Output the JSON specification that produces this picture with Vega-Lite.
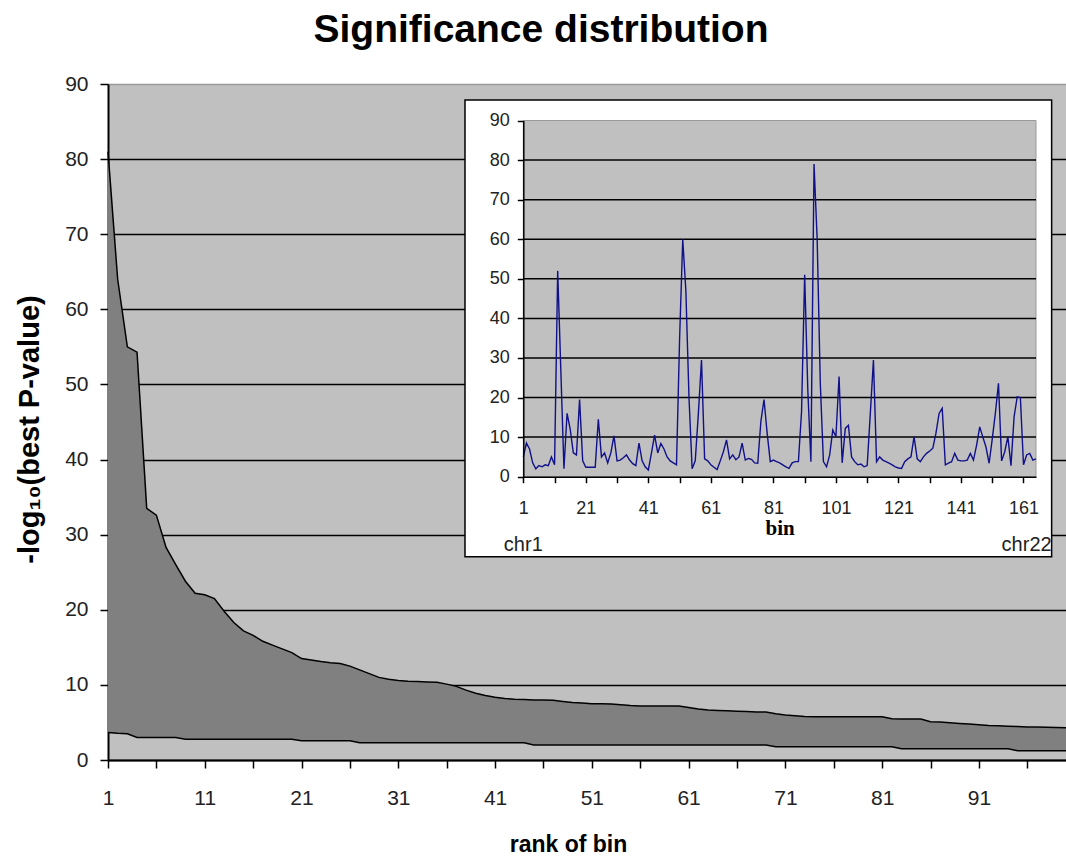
{
  "$schema": "https://vega.github.io/schema/vega-lite/v6.json",
  "width": 958,
  "height": 676,
  "autosize": {"type": "none"},
  "padding": {"left": 108, "top": 84, "right": 0, "bottom": 99},
  "background": "white",
  "config": {"view": {"fill": "#c0c0c0", "stroke": null}, "font": "Liberation Sans"},
  "title": {"text": "Significance distribution", "font": "Liberation Sans", "fontSize": 39, "fontWeight": "bold", "color": "#000", "anchor": "middle", "frame": "group", "offset": 23, "dx": -46},
  "datasets": {
    "ranked": [
      {"rank":1,"upper":81,"lower":3.65},{"rank":2,"upper":64,"lower":3.55},{"rank":3,"upper":55,"lower":3.5},{"rank":4,"upper":54.3,"lower":3.0},
      {"rank":5,"upper":33.5,"lower":3.0},{"rank":6,"upper":32.6,"lower":3.0},{"rank":7,"upper":28.3,"lower":3.0},{"rank":8,"upper":26,"lower":3.0},
      {"rank":9,"upper":23.8,"lower":2.75},{"rank":10,"upper":22.2,"lower":2.75},{"rank":11,"upper":22,"lower":2.75},{"rank":12,"upper":21.5,"lower":2.75},
      {"rank":13,"upper":19.8,"lower":2.75},{"rank":14,"upper":18.3,"lower":2.75},{"rank":15,"upper":17.2,"lower":2.75},{"rank":16,"upper":16.6,"lower":2.75},
      {"rank":17,"upper":15.8,"lower":2.75},{"rank":18,"upper":15.3,"lower":2.75},{"rank":19,"upper":14.8,"lower":2.75},{"rank":20,"upper":14.3,"lower":2.75},
      {"rank":21,"upper":13.5,"lower":2.57},{"rank":22,"upper":13.3,"lower":2.57},{"rank":23,"upper":13.1,"lower":2.57},{"rank":24,"upper":12.95,"lower":2.57},
      {"rank":25,"upper":12.85,"lower":2.57},{"rank":26,"upper":12.5,"lower":2.57},{"rank":27,"upper":12,"lower":2.3},{"rank":28,"upper":11.5,"lower":2.3},
      {"rank":29,"upper":11,"lower":2.3},{"rank":30,"upper":10.75,"lower":2.3},{"rank":31,"upper":10.6,"lower":2.3},{"rank":32,"upper":10.5,"lower":2.3},
      {"rank":33,"upper":10.45,"lower":2.3},{"rank":34,"upper":10.4,"lower":2.3},{"rank":35,"upper":10.35,"lower":2.3},{"rank":36,"upper":10.1,"lower":2.3},
      {"rank":37,"upper":9.8,"lower":2.3},{"rank":38,"upper":9.3,"lower":2.3},{"rank":39,"upper":8.9,"lower":2.3},{"rank":40,"upper":8.6,"lower":2.3},
      {"rank":41,"upper":8.35,"lower":2.3},{"rank":42,"upper":8.2,"lower":2.3},{"rank":43,"upper":8.1,"lower":2.3},{"rank":44,"upper":8.05,"lower":2.3},
      {"rank":45,"upper":8,"lower":2.0},{"rank":46,"upper":8,"lower":2.0},{"rank":47,"upper":7.95,"lower":2.0},{"rank":48,"upper":7.8,"lower":2.0},
      {"rank":49,"upper":7.65,"lower":2.0},{"rank":50,"upper":7.6,"lower":2.0},{"rank":51,"upper":7.5,"lower":2.0},{"rank":52,"upper":7.5,"lower":2.0},
      {"rank":53,"upper":7.45,"lower":2.0},{"rank":54,"upper":7.35,"lower":2.0},{"rank":55,"upper":7.25,"lower":2.0},{"rank":56,"upper":7.2,"lower":2.0},
      {"rank":57,"upper":7.2,"lower":2.0},{"rank":58,"upper":7.2,"lower":2.0},{"rank":59,"upper":7.2,"lower":2.0},{"rank":60,"upper":7.2,"lower":2.0},
      {"rank":61,"upper":7.0,"lower":2.0},{"rank":62,"upper":6.8,"lower":2.0},{"rank":63,"upper":6.65,"lower":2.0},{"rank":64,"upper":6.6,"lower":2.0},
      {"rank":65,"upper":6.55,"lower":2.0},{"rank":66,"upper":6.5,"lower":2.0},{"rank":67,"upper":6.45,"lower":2.0},{"rank":68,"upper":6.4,"lower":2.0},
      {"rank":69,"upper":6.4,"lower":2.0},{"rank":70,"upper":6.15,"lower":1.77},{"rank":71,"upper":6.0,"lower":1.77},{"rank":72,"upper":5.9,"lower":1.77},
      {"rank":73,"upper":5.8,"lower":1.77},{"rank":74,"upper":5.76,"lower":1.77},{"rank":75,"upper":5.76,"lower":1.77},{"rank":76,"upper":5.76,"lower":1.77},
      {"rank":77,"upper":5.76,"lower":1.77},{"rank":78,"upper":5.76,"lower":1.77},{"rank":79,"upper":5.76,"lower":1.77},{"rank":80,"upper":5.76,"lower":1.77},
      {"rank":81,"upper":5.76,"lower":1.77},{"rank":82,"upper":5.5,"lower":1.77},{"rank":83,"upper":5.45,"lower":1.5},{"rank":84,"upper":5.45,"lower":1.5},
      {"rank":85,"upper":5.45,"lower":1.5},{"rank":86,"upper":5.1,"lower":1.5},{"rank":87,"upper":5.05,"lower":1.5},{"rank":88,"upper":4.95,"lower":1.5},
      {"rank":89,"upper":4.87,"lower":1.5},{"rank":90,"upper":4.8,"lower":1.5},{"rank":91,"upper":4.7,"lower":1.5},{"rank":92,"upper":4.6,"lower":1.5},
      {"rank":93,"upper":4.55,"lower":1.5},{"rank":94,"upper":4.5,"lower":1.5},{"rank":95,"upper":4.45,"lower":1.24},{"rank":96,"upper":4.4,"lower":1.24},
      {"rank":97,"upper":4.38,"lower":1.24},{"rank":98,"upper":4.35,"lower":1.24},{"rank":99,"upper":4.33,"lower":1.24},{"rank":100,"upper":4.3,"lower":1.24}
    ],
    "bins": [
      {"bin":1,"v":5},{"bin":2,"v":8.5},{"bin":3,"v":7},{"bin":4,"v":3.5},{"bin":5,"v":2},{"bin":6,"v":2.8},{"bin":7,"v":2.5},{"bin":8,"v":3},{"bin":9,"v":2.8},{"bin":10,"v":5},
      {"bin":11,"v":3},{"bin":12,"v":52},{"bin":13,"v":27},{"bin":14,"v":2},{"bin":15,"v":16},{"bin":16,"v":12},{"bin":17,"v":6},{"bin":18,"v":5.5},{"bin":19,"v":19.5},{"bin":20,"v":4},
      {"bin":21,"v":2.4},{"bin":22,"v":2.4},{"bin":23,"v":2.4},{"bin":24,"v":2.4},{"bin":25,"v":14.5},{"bin":26,"v":5},{"bin":27,"v":6},{"bin":28,"v":3.5},{"bin":29,"v":6},{"bin":30,"v":10.3},
      {"bin":31,"v":4},{"bin":32,"v":4.2},{"bin":33,"v":4.8},{"bin":34,"v":5.5},{"bin":35,"v":4.2},{"bin":36,"v":3.3},{"bin":37,"v":2.8},{"bin":38,"v":8.5},{"bin":39,"v":4},{"bin":40,"v":2.5},
      {"bin":41,"v":1.7},{"bin":42,"v":6},{"bin":43,"v":10.5},{"bin":44,"v":6},{"bin":45,"v":8.4},{"bin":46,"v":7},{"bin":47,"v":5},{"bin":48,"v":4},{"bin":49,"v":3.5},{"bin":50,"v":3},
      {"bin":51,"v":35},{"bin":52,"v":60},{"bin":53,"v":47},{"bin":54,"v":20},{"bin":55,"v":2},{"bin":56,"v":4},{"bin":57,"v":16},{"bin":58,"v":29.5},{"bin":59,"v":4.5},{"bin":60,"v":4},
      {"bin":61,"v":3},{"bin":62,"v":2.4},{"bin":63,"v":1.8},{"bin":64,"v":4},{"bin":65,"v":6.3},{"bin":66,"v":9.3},{"bin":67,"v":4.5},{"bin":68,"v":5.5},{"bin":69,"v":4.3},{"bin":70,"v":5},
      {"bin":71,"v":8.5},{"bin":72,"v":4.2},{"bin":73,"v":4.6},{"bin":74,"v":4.4},{"bin":75,"v":3.5},{"bin":76,"v":3.4},{"bin":77,"v":14},{"bin":78,"v":19.5},{"bin":79,"v":11},{"bin":80,"v":3.8},
      {"bin":81,"v":4.2},{"bin":82,"v":3.8},{"bin":83,"v":3.5},{"bin":84,"v":3},{"bin":85,"v":2.5},{"bin":86,"v":2.1},{"bin":87,"v":3.5},{"bin":88,"v":3.8},{"bin":89,"v":3.8},{"bin":90,"v":16.4},
      {"bin":91,"v":51},{"bin":92,"v":22},{"bin":93,"v":3.8},{"bin":94,"v":79},{"bin":95,"v":60},{"bin":96,"v":23.6},{"bin":97,"v":3.8},{"bin":98,"v":2.5},{"bin":99,"v":5.5},{"bin":100,"v":11.8},
      {"bin":101,"v":10.1},{"bin":102,"v":25.3},{"bin":103,"v":3.5},{"bin":104,"v":12.2},{"bin":105,"v":13},{"bin":106,"v":5},{"bin":107,"v":3.8},{"bin":108,"v":3},{"bin":109,"v":3.2},{"bin":110,"v":2.5},
      {"bin":111,"v":2.8},{"bin":112,"v":16},{"bin":113,"v":29.5},{"bin":114,"v":3.8},{"bin":115,"v":5},{"bin":116,"v":4.2},{"bin":117,"v":3.8},{"bin":118,"v":3.4},{"bin":119,"v":3},{"bin":120,"v":2.5},
      {"bin":121,"v":2.2},{"bin":122,"v":2.1},{"bin":123,"v":3.8},{"bin":124,"v":4.5},{"bin":125,"v":5},{"bin":126,"v":10.1},{"bin":127,"v":4.5},{"bin":128,"v":3.8},{"bin":129,"v":5},{"bin":130,"v":5.9},
      {"bin":131,"v":6.5},{"bin":132,"v":7.2},{"bin":133,"v":11},{"bin":134,"v":16},{"bin":135,"v":17.3},{"bin":136,"v":3},{"bin":137,"v":3.4},{"bin":138,"v":3.8},{"bin":139,"v":5.9},{"bin":140,"v":4.2},
      {"bin":141,"v":4},{"bin":142,"v":4},{"bin":143,"v":4.2},{"bin":144,"v":5.9},{"bin":145,"v":4.2},{"bin":146,"v":8},{"bin":147,"v":12.6},{"bin":148,"v":10},{"bin":149,"v":7.5},{"bin":150,"v":3.4},
      {"bin":151,"v":9.5},{"bin":152,"v":16},{"bin":153,"v":23.6},{"bin":154,"v":4},{"bin":155,"v":6.3},{"bin":156,"v":10.1},{"bin":157,"v":2.8},{"bin":158,"v":15.2},{"bin":159,"v":20.2},{"bin":160,"v":20},
      {"bin":161,"v":3},{"bin":162,"v":5.5},{"bin":163,"v":5.9},{"bin":164,"v":4.2},{"bin":165,"v":4.5}
    ],
    "insetGrid": [{"g":10},{"g":20},{"g":30},{"g":40},{"g":50},{"g":60},{"g":70},{"g":80}]
  },
  "layer": [
    {
      "data": {"name": "ranked"},
      "encoding": {
        "x": {"field": "rank", "type": "quantitative",
          "scale": {"domain": [1, 100], "nice": false, "zero": false},
          "axis": {"values": [1,6,11,16,21,26,31,36,41,46,51,56,61,66,71,76,81,86,91,96],
            "labelExpr": "(datum.value - 1) % 10 == 0 ? datum.label : ''",
            "labelFlush": false, "labelOverlap": false, "grid": false,
            "labelFont": "Liberation Sans", "labelFontSize": 21, "labelColor": "#222", "labelPadding": 19,
            "tickSize": 8, "tickColor": "#000", "tickWidth": 1.5, "domainColor": "#000", "domainWidth": 2,
            "title": "rank of bin", "titleFont": "Liberation Sans", "titleFontSize": 23, "titleFontWeight": "bold", "titleColor": "#000",
            "titleX": 460, "titleY": 91, "titleBaseline": "alphabetic", "titleAlign": "center"}}
      },
      "layer": [
        {
          "mark": {"type": "area", "color": "#808080", "opacity": 1},
          "encoding": {
            "y": {"field": "upper", "type": "quantitative",
              "scale": {"domain": [0, 90], "nice": false},
              "axis": {"values": [0,10,20,30,40,50,60,70,80,90],
                "grid": true, "gridColor": {"condition": {"test": "datum.value == 90", "value": "#9a9a9a"}, "value": "#000"}, "gridWidth": 1.5,
                "labelFont": "Liberation Sans", "labelFontSize": 21, "labelColor": "#222", "labelPadding": 12,
                "tickSize": 8, "tickColor": "#000", "tickWidth": 1.5, "domainColor": "#000", "domainWidth": 2,
                "title": "-log₁₀(best P-value)", "titleFont": "Liberation Sans", "titleFontSize": 29, "titleFontWeight": "bold", "titleColor": "#000",
                "titleX": -79, "titleY": 345, "titleAlign": "center", "titleBaseline": "middle"}},
            "y2": {"field": "lower"}
          }
        },
        {
          "mark": {"type": "line", "color": "#000", "strokeWidth": 1.5},
          "encoding": {"y": {"field": "upper", "type": "quantitative"}}
        },
        {
          "mark": {"type": "line", "color": "#000", "strokeWidth": 1.5},
          "encoding": {"y": {"field": "lower", "type": "quantitative"}}
        }
      ]
    },
    {
      "layer": [
        {
          "data": {"values": [{}]},
          "mark": {"type": "rect", "fill": "#ffffff", "stroke": "#000", "strokeWidth": 1.5},
          "encoding": {
            "x": {"datum": -17.65, "type": "quantitative", "scale": {"domain": [1, 165], "nice": false, "zero": false, "range": [415.3, 928]}},
            "x2": {"datum": 170},
            "y": {"datum": 95.17, "type": "quantitative", "scale": {"domain": [0, 90], "nice": false, "range": [392.7, 36.5]}},
            "y2": {"datum": -20.2}
          }
        },
        {
          "data": {"values": [{}]},
          "mark": {"type": "rect", "fill": "#c0c0c0", "stroke": "#9a9a9a", "strokeWidth": 1},
          "encoding": {
            "x": {"datum": 1, "type": "quantitative"},
            "x2": {"datum": 165},
            "y": {"datum": 90, "type": "quantitative"},
            "y2": {"datum": 0}
          }
        },
        {
          "data": {"name": "insetGrid"},
          "mark": {"type": "rule", "color": "#000", "strokeWidth": 1.5},
          "encoding": {
            "x": {"datum": 1, "type": "quantitative"},
            "x2": {"datum": 165},
            "y": {"field": "g", "type": "quantitative"}
          }
        },
        {
          "data": {"name": "bins"},
          "mark": {"type": "line", "color": "#10108a", "strokeWidth": 1.4},
          "encoding": {
            "x": {"field": "bin", "type": "quantitative",
              "axis": {"orient": "bottom", "offset": -283.3, "zindex": 1,
                "values": [1,11,21,31,41,51,61,71,81,91,101,111,121,131,141,151,161],
                "labelExpr": "(datum.value - 1) % 20 == 0 ? datum.label : ''",
                "labelFlush": false, "labelOverlap": false, "grid": false,
                "labelFont": "Liberation Sans", "labelFontSize": 18, "labelColor": "#222", "labelPadding": 17,
                "tickSize": 6, "tickColor": "#000", "tickWidth": 1.5, "domainColor": "#000", "domainWidth": 1.5,
                "title": "bin", "titleFont": "Liberation Serif", "titleFontSize": 21, "titleFontWeight": "bold", "titleColor": "#000",
                "titleY": 58, "titleBaseline": "alphabetic"}},
            "y": {"field": "v", "type": "quantitative",
              "axis": {"orient": "left", "offset": -415.3, "zindex": 1,
                "values": [0,10,20,30,40,50,60,70,80,90], "grid": false,
                "labelFont": "Liberation Sans", "labelFontSize": 18, "labelColor": "#222", "labelPadding": 8,
                "tickSize": 6, "tickColor": "#000", "tickWidth": 1.5, "domainColor": "#000", "domainWidth": 1.5,
                "title": null}}
          }
        },
        {
          "data": {"values": [{}]},
          "mark": {"type": "text", "font": "Liberation Sans", "fontSize": 20, "color": "#222", "align": "center", "baseline": "alphabetic"},
          "encoding": {
            "x": {"datum": 1, "type": "quantitative"},
            "y": {"datum": -18.8, "type": "quantitative"},
            "text": {"value": "chr1"}
          }
        },
        {
          "data": {"values": [{}]},
          "mark": {"type": "text", "font": "Liberation Sans", "fontSize": 20, "color": "#222", "align": "center", "baseline": "alphabetic"},
          "encoding": {
            "x": {"datum": 162, "type": "quantitative"},
            "y": {"datum": -18.8, "type": "quantitative"},
            "text": {"value": "chr22"}
          }
        }
      ]
    }
  ],
  "resolve": {"scale": {"x": "independent", "y": "independent"}, "axis": {"x": "independent", "y": "independent"}}
}
